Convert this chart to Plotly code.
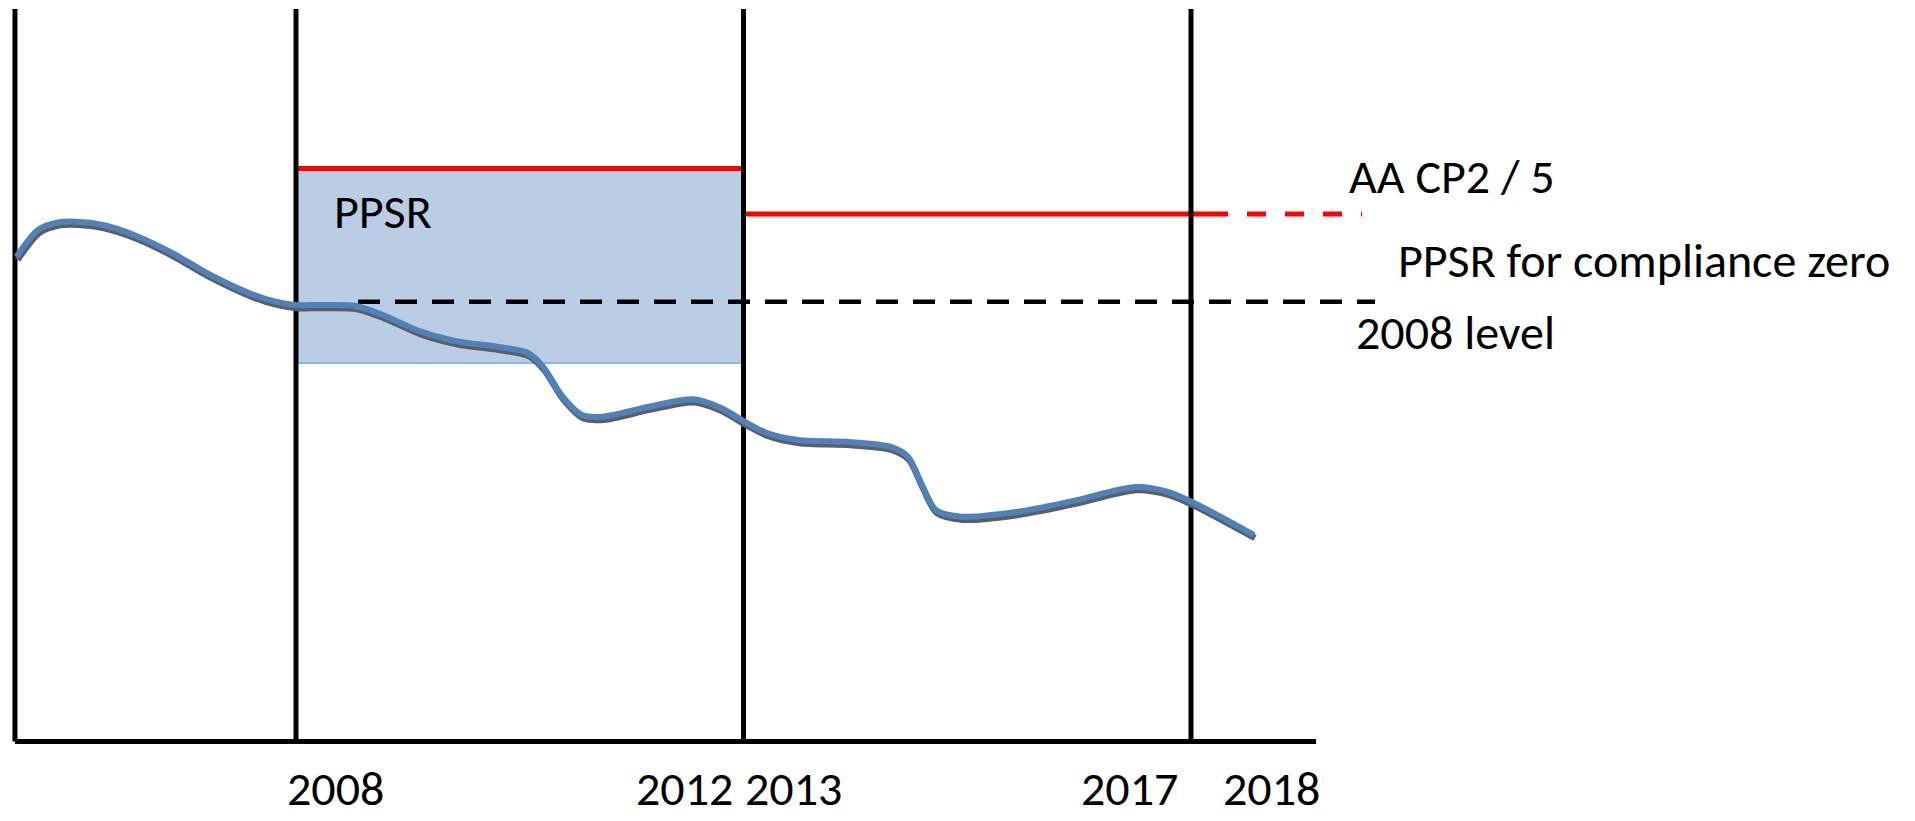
import plotly.graph_objects as go

# ---------------- data ----------------
# smoothed indicator curve (year, value)
curve_years = [2004.877, 2005.117, 2005.330, 2005.547, 2005.844, 2006.190, 2006.615, 2007.045,
               2007.475, 2007.771, 2007.994, 2008.324, 2008.670, 2008.969, 2009.397, 2009.821,
               2010.251, 2010.592, 2010.760, 2010.979, 2011.196, 2011.430, 2011.944, 2012.434,
               2012.749, 2013.012, 2013.263, 2013.609, 2014.179, 2014.637, 2014.838, 2014.983,
               2015.151, 2015.441, 2016.067, 2016.648, 2017.385, 2017.732, 2018.034, 2018.704]
curve_values = [66.18, 69.83, 70.83, 70.96, 70.51, 69.15, 66.69, 63.69,
                61.23, 60.04, 59.59, 59.59, 59.45, 58.23, 55.95, 54.58,
                53.90, 53.04, 51.17, 47.07, 44.57, 44.34, 45.71, 46.72,
                45.53, 43.66, 42.12, 41.16, 40.89, 40.25, 38.88, 35.29,
                31.60, 30.69, 31.37, 32.74, 34.74, 34.10, 32.56, 28.19]

axis_start = 2004.86          # vertical axis position
axis_end = 2019.397           # end of horizontal axis
axis_top = 100.0
period_bounds = [2008, 2013, 2018]

ppsr_box_years = [2008, 2013]
ppsr_box_top = 78.22
ppsr_box_bottom = 51.67

cp_top_years = [2008, 2013]
cp_top_value = 78.22
cp_low_solid_years = [2013, 2018.201]
cp_low_dash_years = [2018.201, 2019.911]
cp_low_value = 72.01

level_2008_years = [2008.693, 2020.056]
level_2008_value = 60.04

year_labels = ["2008", "2012", "2013", "2017", "2018"]
year_label_x = [2008.436, 2012.346, 2013.564, 2017.318, 2018.894]
year_label_y = -6.45

side_texts = ["AA CP2 / 5", "PPSR for compliance zero", "2008 level"]
side_text_x = [2019.743, 2020.290, 2019.818]
side_text_y = [77.2, 65.73, 55.77]

box_label = "PPSR"
box_label_x = 2008.402
box_label_y = 72.42

# ---------------- figure ----------------
X_RANGE = [2004.6927, 2026.0894]
Y_RANGE = [-10.853, 101.229]
px_per_unit_y = 821 / (Y_RANGE[1] - Y_RANGE[0])
px_per_unit_x = 1915 / (X_RANGE[1] - X_RANGE[0])

FONT = "Carlito, Lato, sans-serif"
FONT_SIZE = 48
BLACK = "#000000"
RED = "#ff0000"

fig = go.Figure()

# PPSR shaded box
fig.add_trace(go.Scatter(
    x=[ppsr_box_years[0], ppsr_box_years[1], ppsr_box_years[1], ppsr_box_years[0], ppsr_box_years[0]],
    y=[ppsr_box_bottom, ppsr_box_bottom, ppsr_box_top, ppsr_box_top, ppsr_box_bottom],
    fill="toself", fillcolor="#b9cde5", line=dict(width=0), mode="lines", hoverinfo="skip"))
fig.add_trace(go.Scatter(x=ppsr_box_years, y=[ppsr_box_bottom] * 2, mode="lines",
                         line=dict(color="#8db3e2", width=2), hoverinfo="skip"))

# 2008 level dashed line
fig.add_trace(go.Scatter(x=level_2008_years, y=[level_2008_value] * 2, mode="lines",
                         line=dict(color=BLACK, width=4.5, dash="22px,15px"), hoverinfo="skip"))

# AA CP lines
fig.add_trace(go.Scatter(x=cp_top_years, y=[cp_top_value] * 2, mode="lines",
                         line=dict(color=RED, width=5), hoverinfo="skip"))
fig.add_trace(go.Scatter(x=cp_low_solid_years, y=[cp_low_value] * 2, mode="lines",
                         line=dict(color=RED, width=5), hoverinfo="skip"))
fig.add_trace(go.Scatter(x=cp_low_dash_years, y=[cp_low_value] * 2, mode="lines",
                         line=dict(color=RED, width=5, dash="19px,19px"), hoverinfo="skip"))

# axes and period boundaries
for xb in [axis_start] + period_bounds:
    fig.add_trace(go.Scatter(x=[xb, xb], y=[0, axis_top], mode="lines",
                             line=dict(color=BLACK, width=5), hoverinfo="skip"))
fig.add_trace(go.Scatter(x=[axis_start, axis_end], y=[0, 0], mode="lines",
                         line=dict(color=BLACK, width=5), hoverinfo="skip"))

# curve shadow + curve
shadow_dx = 1.0 / px_per_unit_x
shadow_dy = 3.0 / px_per_unit_y
fig.add_trace(go.Scatter(x=[v + shadow_dx for v in curve_years],
                         y=[v - shadow_dy for v in curve_values],
                         mode="lines", line=dict(color="#5e5e5e", width=6.5, shape="spline", smoothing=0.8),
                         hoverinfo="skip"))
fig.add_trace(go.Scatter(x=curve_years, y=curve_values, mode="lines",
                         line=dict(color="#4f81bd", width=6, shape="spline", smoothing=0.8),
                         hoverinfo="skip"))

annotations = []
for t, x in zip(year_labels, year_label_x):
    annotations.append(dict(x=x, y=year_label_y, text=t, showarrow=False, xanchor="center",
                            yanchor="middle", font=dict(family=FONT, size=FONT_SIZE, color=BLACK)))
for t, x, y in zip(side_texts, side_text_x, side_text_y):
    annotations.append(dict(x=x, y=y, text=t, showarrow=False, xanchor="left",
                            yanchor="middle", font=dict(family=FONT, size=FONT_SIZE, color=BLACK)))
annotations.append(dict(x=box_label_x, y=box_label_y, text=box_label, showarrow=False, xanchor="left",
                        yanchor="middle", font=dict(family=FONT, size=FONT_SIZE, color=BLACK)))

fig.update_layout(
    width=1915, height=821,
    margin=dict(l=0, r=0, t=0, b=0),
    paper_bgcolor="white", plot_bgcolor="white",
    showlegend=False,
    xaxis=dict(range=X_RANGE, visible=False, fixedrange=True),
    yaxis=dict(range=Y_RANGE, visible=False, fixedrange=True),
    annotations=annotations,
)

fig.write_html("out.html", config={"displayModeBar": False},
               post_script="document.body.style.margin='0';document.body.style.overflow='hidden';")
